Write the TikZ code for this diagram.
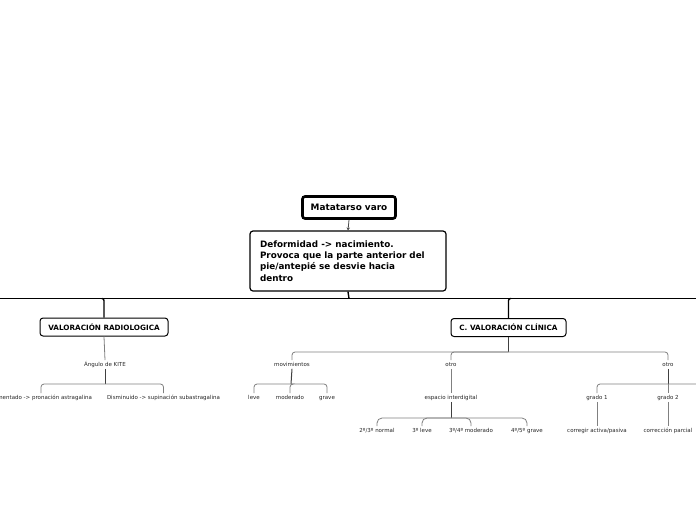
\documentclass[tikz,border=0pt]{standalone}
\usepackage{fontspec}
\setmainfont{DejaVu Sans}
\usetikzlibrary{arrows.meta}
\tikzset{
  titlebox/.style={draw=black, line width=2.6pt, rounded corners=2.5pt, minimum width=93pt, minimum height=22pt, inner sep=0pt, font=\bfseries\fontsize{8.9}{10}\selectfont},
  descbox/.style={draw=black, line width=1.2pt, rounded corners=3pt, minimum width=196pt, minimum height=60pt, inner sep=0pt, font=\bfseries\fontsize{8.8}{11.3}\selectfont, align=left},
  catbox/.style={draw=black, line width=1pt, rounded corners=3pt, minimum height=18pt, inner sep=0pt, font=\bfseries\fontsize{7.25}{8}\selectfont},
  leaf/.style={inner sep=1.5pt, text height=4.2pt, text depth=1.2pt, font=\fontsize{5.5}{6.5}\selectfont, text=black!85},
  mainline/.style={draw=black, line width=1.4pt},
  darkline/.style={draw=black!75, line width=1pt},
  greyline/.style={draw=black!50, line width=0.8pt, rounded corners=3pt},
}
\begin{document}
\begin{tikzpicture}[x=1pt,y=-1pt]
\clip (0,0) rectangle (696,520);
\fill[white] (0,0) rectangle (696,520);

% main nodes
\node[titlebox] (title) at (349,207.5) {Matatarso varo};
\node[descbox] (desc) at (348,261) {\begin{minipage}{176pt}Deformidad -> nacimiento.\\Provoca que la parte anterior del\\pie/antepié se desvie hacia\\dentro\end{minipage}};
\node[catbox, minimum width=128pt] (radio) at (104,327) {VALORACIÓN RADIOLOGICA};
\node[catbox, minimum width=115pt] (clin) at (508.5,327.5) {C. VALORACIÓN CLÍNICA};

\draw[draw=black!70, line width=0.8pt, -{Stealth[length=3pt,width=3.5pt]}] (title.south) -- (desc.north);

% main horizontal bar
\coordinate (hl) at (-5,298.5);
\coordinate (hr) at (701,298.5);
\coordinate (hd) at (349,298.5);
\draw[mainline] (hl) -- (hr);
\draw[mainline] (desc.south) -- (hd);
\coordinate (hra) at (102,298.5);
\coordinate (hrb) at (511,298.5);
\draw[mainline, rounded corners=2pt] (hra) -| (radio.north);
\draw[mainline, rounded corners=2pt] (hrb) -| (clin.north);

% radiologica subtree
\node[leaf] (kite) at (105,364.5) {Ángulo de KITE};
\node[leaf] (aum) at (41,397.5) {Aumentado -> pronación astragalina};
\node[leaf] (dis) at (163.5,397.5) {Disminuido -> supinación subastragalina};
\draw[greyline] (radio.south) -- (kite.north);
\coordinate (kj) at (105,384);
\draw[darkline] (kite.south) -- (kj);
\draw[greyline] (kj) -| (aum.north);
\draw[greyline] (kj) -| (dis.north);

% clinica subtree
\coordinate (cj) at (508.5,352);
\draw[darkline] (clin.south) -- (cj);
\node[leaf] (mov) at (292,364.5) {movimientos};
\node[leaf] (otroa) at (451,364.5) {otro};
\node[leaf] (otrob) at (668,364.5) {otro};
\draw[greyline] (cj) -| (mov.north);
\draw[greyline] (cj) -| (otroa.north);
\draw[greyline] (cj) -| (otrob.north);

% movimientos
\node[leaf] (leve) at (254,397.5) {leve};
\node[leaf] (mod) at (290,397.5) {moderado};
\node[leaf] (grave) at (327,397.5) {grave};
\coordinate (mj) at (291,384);
\draw[darkline] (mov.south) -- (mj);
\draw[greyline] (mj) -| (leve.north);
\draw[greyline] (mj) -| (mod.north);
\draw[greyline] (mj) -| (grave.north);

% otro (espacio interdigital)
\node[leaf] (esp) at (451,397.5) {espacio interdigital};
\draw[greyline] (otroa.south) -- (esp.north);
\coordinate (ej) at (451,418);
\draw[darkline] (esp.south) -- (ej);
\node[leaf] (e1) at (377,430.5) {2º/3º normal};
\node[leaf] (e2) at (422,430.5) {3º leve};
\node[leaf] (e3) at (471,430.5) {3º/4º moderado};
\node[leaf] (e4) at (527,430.5) {4º/5º grave};
\draw[greyline, rounded corners=5pt] (ej) -| (e1.north);
\draw[greyline, rounded corners=5pt] (ej) -| (e2.north);
\draw[greyline, rounded corners=5pt] (ej) -| (e3.north);
\draw[greyline, rounded corners=5pt] (ej) -| (e4.north);

% otro (grados)
\coordinate (gj) at (668,384);
\draw[darkline] (otrob.south) -- (gj);
\node[leaf] (g1) at (597,397.5) {grado 1};
\node[leaf] (g2) at (668,397.5) {grado 2};
\coordinate (g3) at (740,391);
\draw[greyline] (gj) -| (g1.north);
\draw[greyline] (gj) -- (g2.north);
\draw[greyline] (gj) -| (g3);
\node[leaf] (c1) at (597,430.5) {corregir activa/pasiva};
\node[leaf] (c2) at (668,430.5) {corrección parcial};
\draw[greyline] (g1.south) -- (c1.north);
\draw[greyline] (g2.south) -- (c2.north);
\end{tikzpicture}
\end{document}
